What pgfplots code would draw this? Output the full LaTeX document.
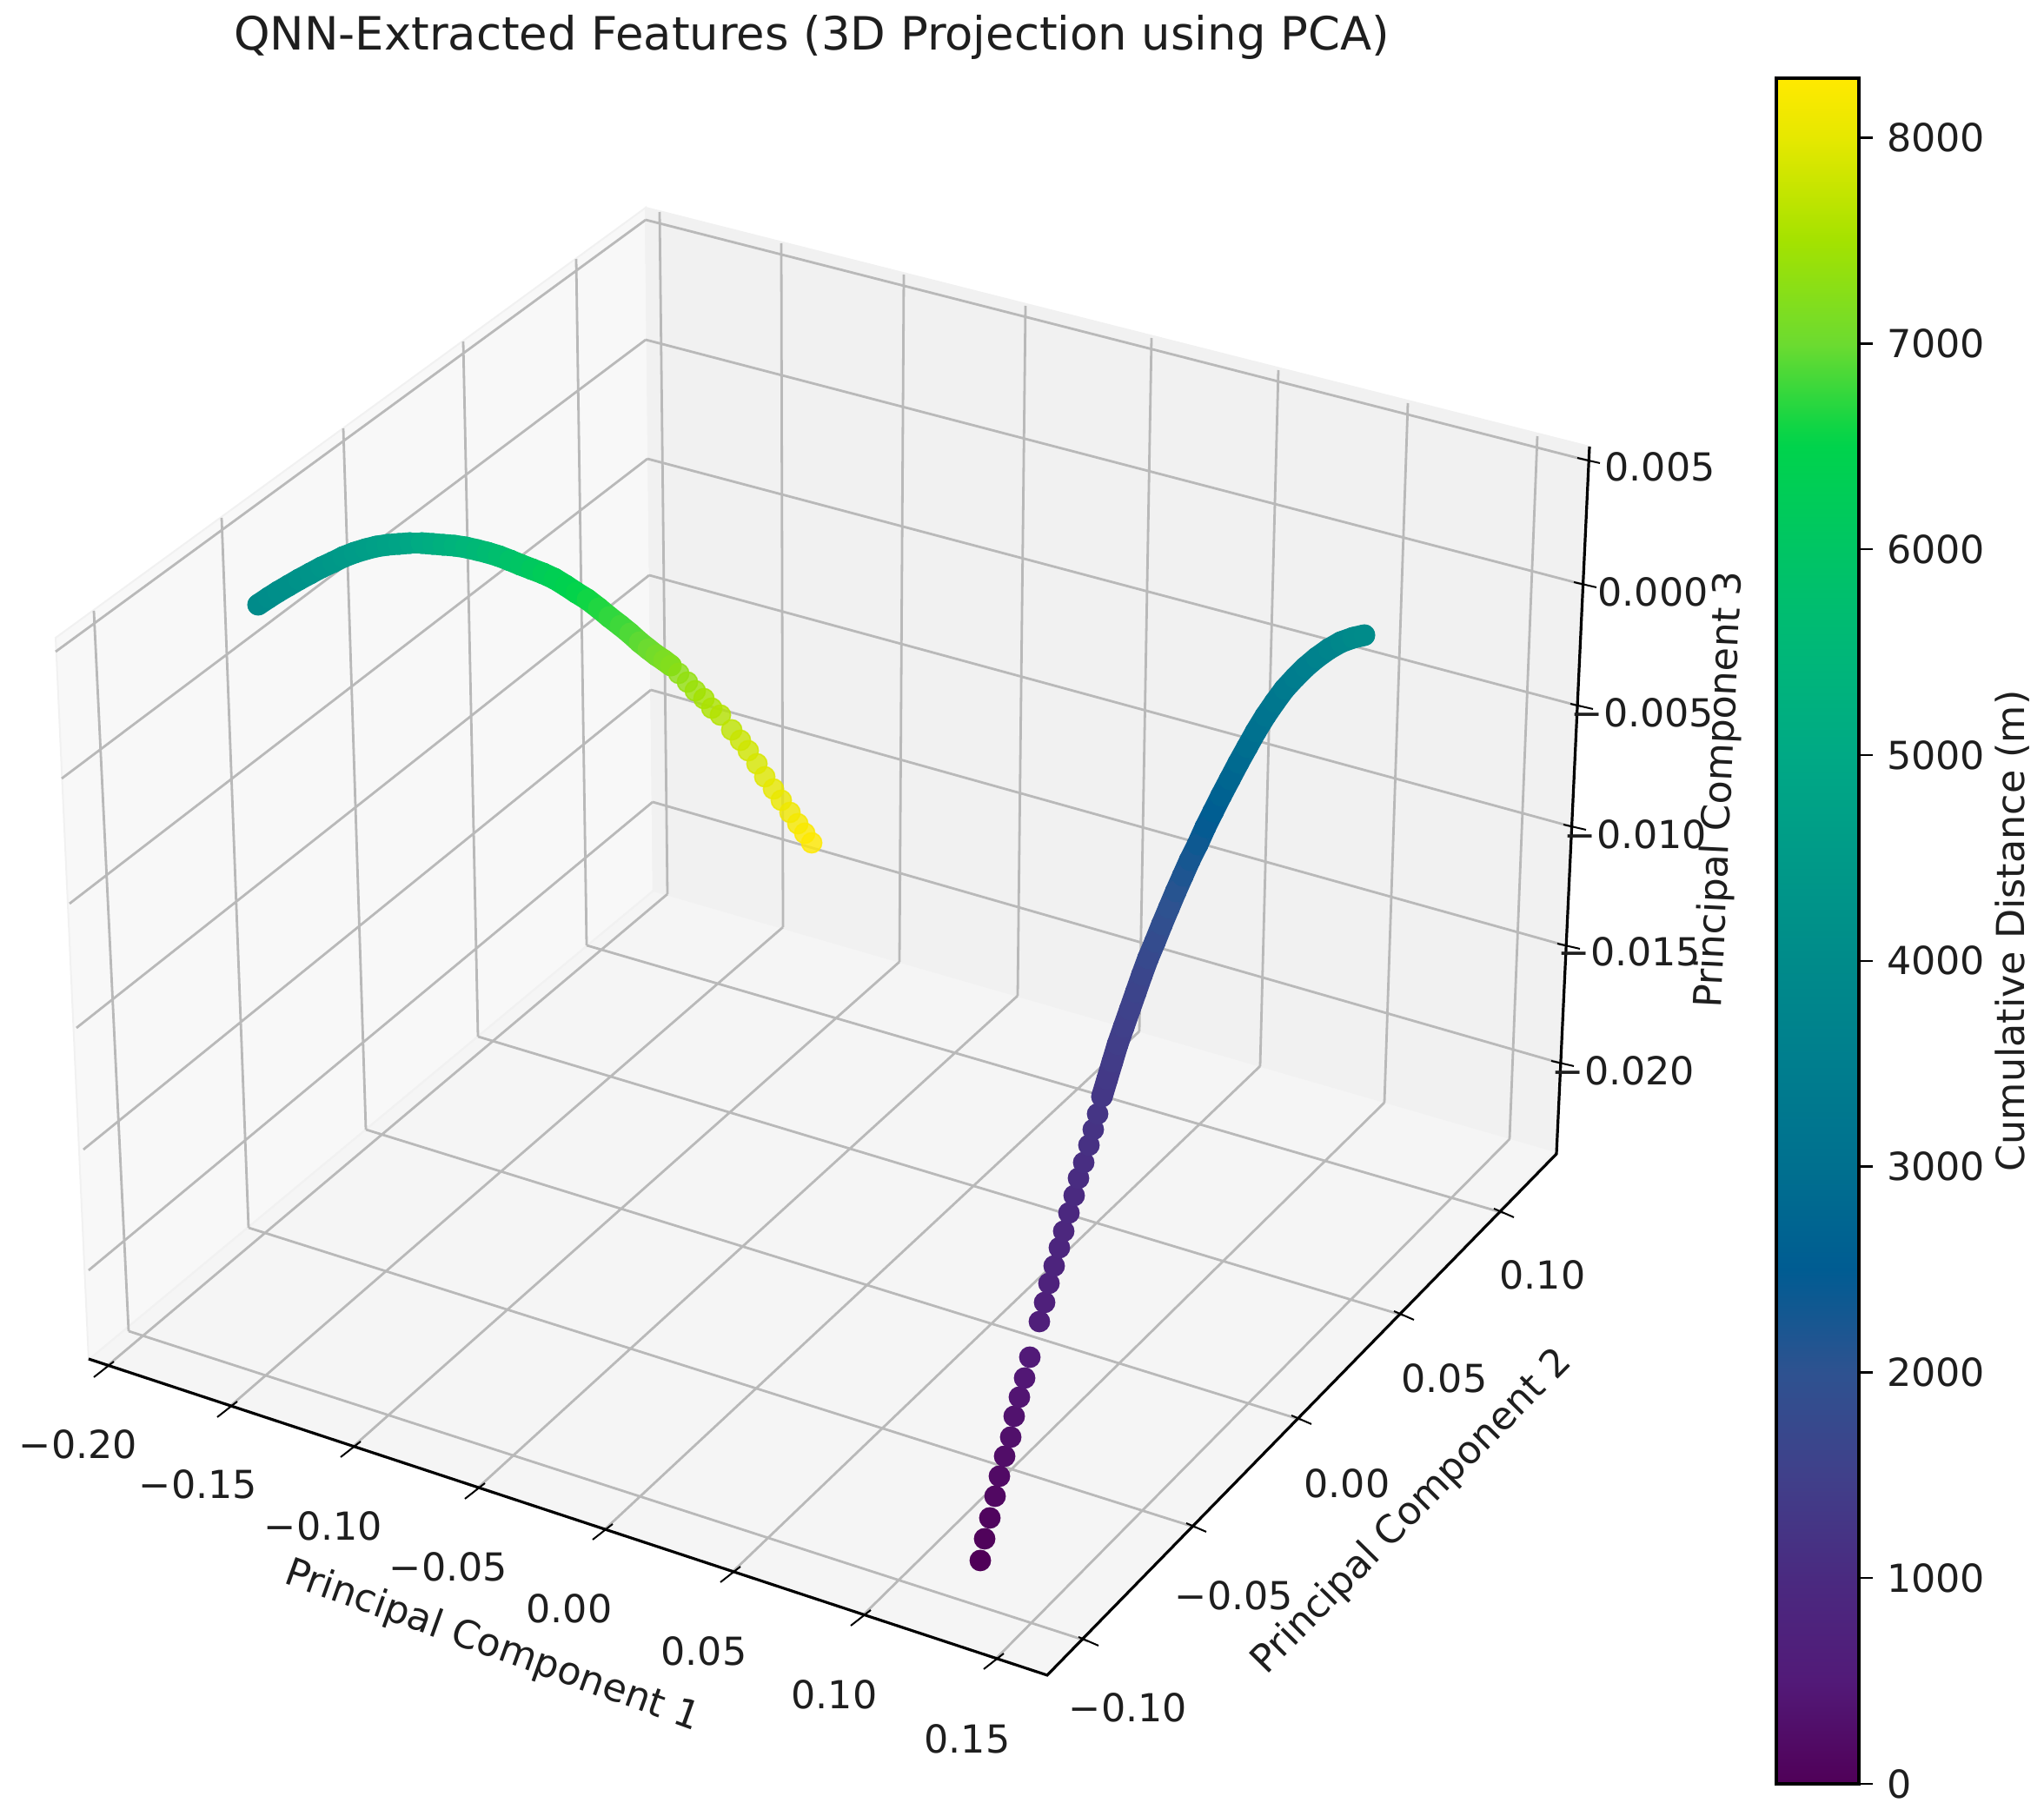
\documentclass[border=0pt]{standalone}
\usepackage{pgfplots}
\pgfplotsset{compat=1.18}
\usepackage{pgfplotstable}
\usepackage{fontspec}
\setmainfont{DejaVu Sans}
\definecolor{PaneL}{HTML}{F8F8F8}
\definecolor{PaneB}{HTML}{F1F1F1}
\definecolor{PaneF}{HTML}{F5F5F5}
\definecolor{GridC}{HTML}{B9B9B9}
\definecolor{Ink}{HTML}{1E1E1E}

% first arc, positions in pixels, third column is the colour value
\pgfplotstableread{
x y c
1128 1796 0
1133 1771 50
1139 1747 100
1145 1722 150
1150 1699 200
1156 1676 250
1163 1654 300
1167 1630 350
1173 1608 400
1179 1586 450
1185 1562 500
1196 1521 650
1202 1499 700
1207 1477 750
1213 1457 800
1219 1436 850
1224 1417 900
1230 1396 950
1236 1376 1000
1241 1356 1050
1247 1338 1100
1253 1318 1150
1258 1300 1200
1263 1282 1250
1268 1262 1300
1274 1242 1350
1280 1222 1400
1286 1202 1450
1293 1182 1500
1300 1162 1550
1307 1142 1600
1314 1122 1680
1321 1103 1760
1329 1084 1840
1337 1064 1920
1345 1045 2000
1353 1026 2080
1361 1008 2170
1369 990 2260
1378 972 2350
1387 952 2450
1396 934 2550
1405 916 2650
1415 897 2750
1425 878 2850
1435 860 2950
1445 842 3050
1456 824 3150
1467 808 3250
1478 793 3350
1490 780 3450
1502 768 3550
1515 757 3650
1529 747 3750
1543 739 3850
1557 734 3950
1570 731 4000
}\arcone

% second arc up to about 7000 m
\pgfplotstableread{
x y c
297 696 4000
309 688 4060
320 681 4120
332 674 4180
344 667 4240
357 660 4300
370 653 4360
383 647 4420
395 641 4490
408 636 4560
421 632 4630
433 629 4700
446 627 4770
459 626 4850
472 625 4950
485 625 5060
498 626 5150
510 627 5250
523 628 5350
536 630 5450
549 633 5550
561 636 5650
574 640 5750
587 645 5880
599 650 6000
612 655 6120
625 660 6240
638 666 6360
651 674 6440
663 682 6520
676 690 6600
689 700 6670
701 710 6740
714 720 6800
725 729 6870
736 739 6940
746 747 7000
755 754 7070
764 760 7140
772 766 7200
}\arctwo

% the far end of the second arc is faded in the picture
\pgfplotstableread{
x y c
781 775 7280
791 785 7350
800 795 7420
810 804 7500
819 815 7560
829 823 7620
842 840 7700
852 852 7780
861 864 7830
871 879 7890
880 894 7950
890 908 8010
899 921 8060
909 935 8120
918 948 8180
926 959 8240
934 970 8290
}\arcend

\tikzset{lab/.style={font=\fontsize{11.1}{13}\selectfont,text=Ink,inner sep=0pt}}
\pgfplotsset{
  dots/.style={scatter,only marks,mark=*,mark size=2.9pt,scatter src=explicit,
    scatter/use mapped color={draw=mapped color,fill=mapped color}},
  ribbon/.style={mesh,point meta=explicit,line width=6.2pt,line cap=round,line join=round},
}

\begin{document}
\begin{tikzpicture}
\begin{axis}[
  name=main,
  scale only axis,width=588pt,height=522.5pt,
  xmin=0,xmax=2352,ymin=0,ymax=2090,y dir=reverse,
  hide axis,clip=false,unbounded coords=jump,
  colormap={qnn}{
    rgb255(0)=(80,0,88) rgb255(50)=(82,26,120) rgb255(100)=(74,42,128)
    rgb255(150)=(64,64,138) rgb255(200)=(46,82,144) rgb255(250)=(0,92,146)
    rgb255(300)=(0,112,143) rgb255(350)=(0,126,142) rgb255(400)=(0,139,138)
    rgb255(450)=(0,154,136) rgb255(500)=(0,169,133) rgb255(550)=(0,183,120)
    rgb255(600)=(0,197,100) rgb255(650)=(0,211,76) rgb255(660)=(16,213,69)
    rgb255(700)=(108,219,48) rgb255(750)=(164,226,0) rgb255(800)=(230,232,0)
    rgb255(829)=(255,233,0)},
  point meta min=0,point meta max=8290,
  colorbar,
  colorbar/width=23.75pt,
  colorbar style={
    at={(0.8690,0.0177)},anchor=south west,
    scale only axis,height=490.75pt,
    ymin=0,ymax=8290,
    ytick={0,1000,...,8000},ytick pos=right,
    axis line style={line width=0.8pt,black},
    tick style={line width=0.6pt,black},
    major tick length=4pt,tick align=outside,
    yticklabel style={font=\fontsize{11.1}{13}\selectfont,text=Ink,xshift=0.5pt,
      /pgf/number format/assume math mode=true,/pgf/number format/1000 sep={}},
    ylabel={Cumulative Distance (m)},
    ylabel style={font=\fontsize{11.1}{13}\selectfont,text=Ink,
      at={(axis description cs:2.863,0.5)},anchor=center},
  },
]
% panes
\addplot[fill=PaneL,draw=PaneB,line width=0.5pt] coordinates {(64,734) (743,239) (752,1025) (102,1565)} -- cycle;
\addplot[fill=PaneB,draw=PaneB,line width=0.5pt] coordinates {(743,239) (1829,514) (1790,1325) (752,1025)} -- cycle;
\addplot[fill=PaneF,draw=PaneB,line width=0.5pt] coordinates {(752,1025) (1790,1325) (1205,1928) (102,1565)} -- cycle;

% grid on the left wall, the back wall and the floor
\addplot[GridC,line width=0.7pt] coordinates {
  (743,253)(64,750)(0,nan)(743,391)(71,896)(0,nan)(745,528)(80,1040)(0,nan)
  (747,662)(88,1183)(0,nan)(749,794)(96,1323)(0,nan)(751,923)(102,1462)(0,nan)
  (108,703)(148,1532)(0,nan)(255,596)(286,1413)(0,nan)(395,493)(421,1300)(0,nan)
  (533,393)(550,1193)(0,nan)(663,298)(675,1088)(0,nan)
  (743,253)(1827,530)(0,nan)(743,391)(1823,673)(0,nan)(745,528)(1819,813)(0,nan)
  (747,662)(1811,952)(0,nan)(749,794)(1804,1089)(0,nan)(751,923)(1797,1224)(0,nan)
  (759,244)(768,1029)(0,nan)(899,280)(901,1067)(0,nan)(1040,316)(1035,1107)(0,nan)
  (1180,352)(1171,1146)(0,nan)(1325,389)(1311,1187)(0,nan)(1471,426)(1450,1227)(0,nan)
  (1620,464)(1593,1269)(0,nan)(1769,502)(1737,1311)(0,nan)
  (768,1029)(121,1574)(0,nan)(901,1067)(263,1620)(0,nan)(1035,1107)(405,1666)(0,nan)
  (1171,1146)(548,1714)(0,nan)(1311,1187)(695,1761)(0,nan)(1450,1227)(842,1810)(0,nan)
  (1593,1269)(992,1860)(0,nan)(1737,1311)(1145,1910)(0,nan)
  (148,1532)(1252,1889)(0,nan)(286,1413)(1376,1758)(0,nan)(421,1300)(1497,1634)(0,nan)
  (550,1193)(1615,1514)(0,nan)(675,1088)(1730,1396)
};

% axis lines and tick marks
\addplot[black,line width=0.8pt] coordinates {(102,1564)(1205,1928)(1791,1328)(1829,514)};
\addplot[black,line width=0.5pt] coordinates {
  (108,1585)(131,1567)(0,nan)(250,1631)(273,1613)(0,nan)(392,1677)(415,1659)(0,nan)
  (535,1725)(558,1707)(0,nan)(682,1772)(705,1754)(0,nan)(829,1821)(852,1803)(0,nan)
  (979,1871)(1002,1853)(0,nan)(1132,1921)(1155,1903)(0,nan)
  (1241,1884)(1264,1894)(0,nan)(1365,1753)(1388,1763)(0,nan)(1486,1629)(1509,1639)(0,nan)
  (1604,1509)(1627,1519)(0,nan)(1719,1391)(1742,1401)(0,nan)
  (1815,527)(1841,533)(0,nan)(1811,670)(1837,676)(0,nan)(1807,810)(1833,816)(0,nan)
  (1799,949)(1825,955)(0,nan)(1792,1086)(1818,1092)(0,nan)(1785,1221)(1811,1227)
};

% the two arcs, the dots run together where they are dense
\addplot[ribbon] table[x=x,y=y,meta=c,skip coords between index={0}{24}] {\arcone};
\addplot[ribbon] table[x=x,y=y,meta=c] {\arctwo};
\addplot[dots] table[x=x,y=y,meta=c] {\arcone};
\addplot[dots] table[x=x,y=y,meta=c] {\arctwo};
\addplot[dots,mark options={opacity=0.8}] table[x=x,y=y,meta=c] {\arcend};

% title and labels
\node[lab,font=\fontsize{13.2}{16}\selectfont] at (axis cs:934,43) {QNN-Extracted Features (3D Projection using PCA)};
\node[lab] at (axis cs:90,1662) {−0.20};
\node[lab] at (axis cs:228,1708) {−0.15};
\node[lab] at (axis cs:372,1756) {−0.10};
\node[lab] at (axis cs:516,1803) {−0.05};
\node[lab] at (axis cs:655,1851) {0.00};
\node[lab] at (axis cs:810,1900) {0.05};
\node[lab] at (axis cs:960,1950) {0.10};
\node[lab] at (axis cs:1113,2001) {0.15};
\node[lab] at (axis cs:1298,1965) {−0.10};
\node[lab] at (axis cs:1420,1836) {−0.05};
\node[lab] at (axis cs:1550,1707) {0.00};
\node[lab] at (axis cs:1662,1586) {0.05};
\node[lab] at (axis cs:1775,1467) {0.10};
\node[lab] at (axis cs:1910,537) {0.005};
\node[lab] at (axis cs:1902,681) {0.000};
\node[lab] at (axis cs:1890,820) {−0.005};
\node[lab] at (axis cs:1882,960) {−0.010};
\node[lab] at (axis cs:1875,1095) {−0.015};
\node[lab] at (axis cs:1868,1232) {−0.020};
\node[lab,rotate=-19.8] at (axis cs:566,1895) {Principal Component 1};
\node[lab,rotate=45.5] at (axis cs:1625,1740) {Principal Component 2};
\node[lab,rotate=87.3] at (axis cs:1980,909) {Principal Component 3};
\end{axis}
\pgfresetboundingbox
\useasboundingbox (main.south west) rectangle (main.north east);
\end{tikzpicture}
\end{document}
